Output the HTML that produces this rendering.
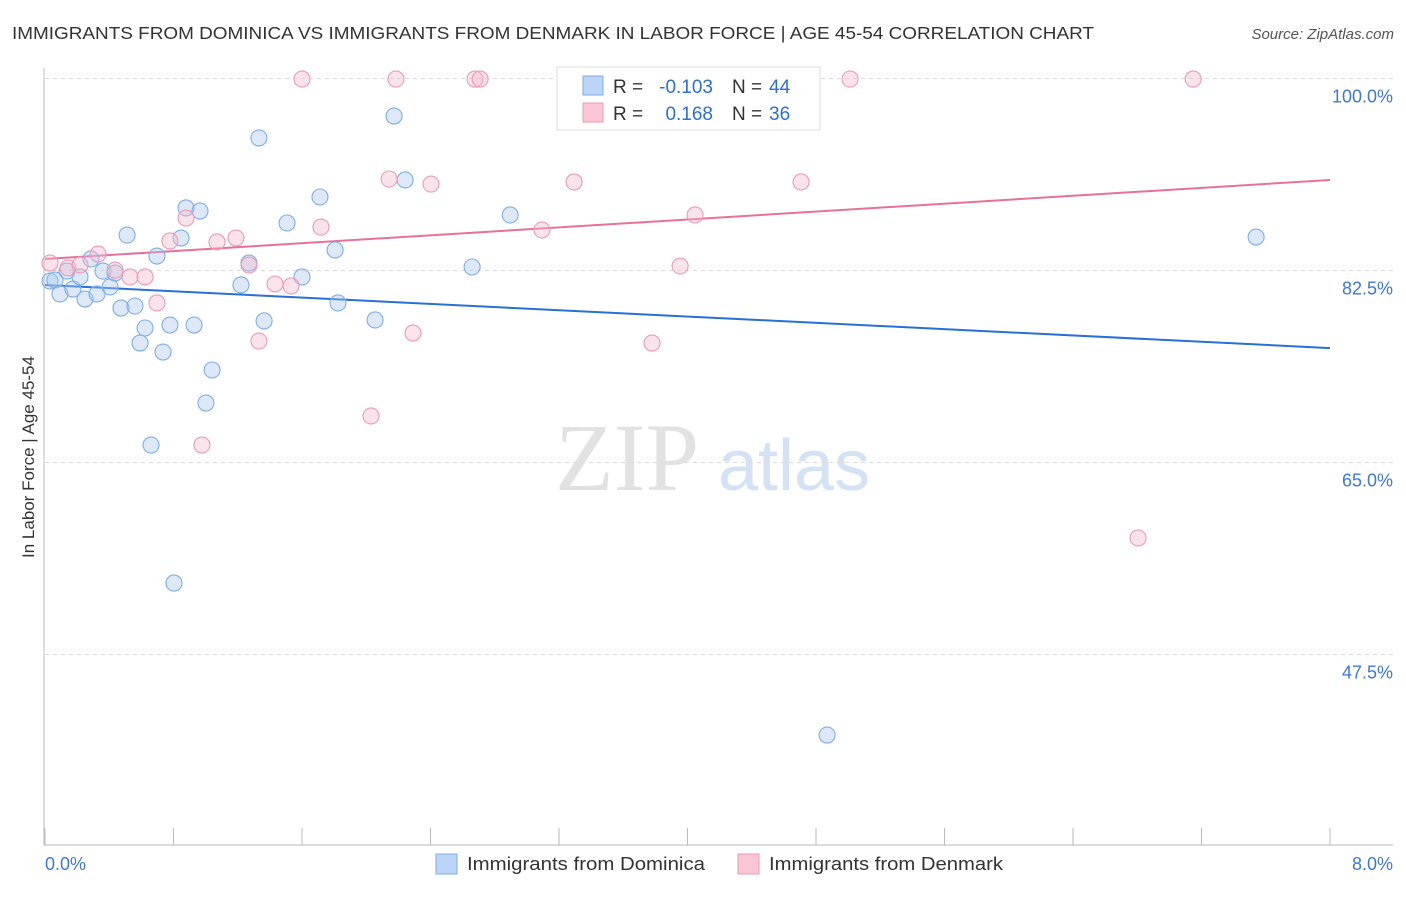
<!DOCTYPE html>
<html><head><meta charset="utf-8">
<style>
body{margin:0;background:#fff;font-family:"Liberation Sans",sans-serif;}
svg text{font-family:"Liberation Sans",sans-serif;}
</style></head>
<body>
<svg id="chart" width="1406" height="892" viewBox="0 0 1406 892" xmlns="http://www.w3.org/2000/svg">
<text x="12" y="39" font-size="17.5" fill="#333" textLength="1082" lengthAdjust="spacingAndGlyphs">IMMIGRANTS FROM DOMINICA VS IMMIGRANTS FROM DENMARK IN LABOR FORCE | AGE 45-54 CORRELATION CHART</text>
<text x="1394" y="39" font-size="15" fill="#555" font-style="italic" text-anchor="end">Source: ZipAtlas.com</text>
<g>
<text x="555" y="490" font-size="96" fill="#e2e2e2" style="font-family:'Liberation Serif',serif">ZIP</text>
<text x="718" y="490" font-size="72" fill="#d3e2f5">atlas</text>
</g>
<g id="grid"></g>
<g id="axes"></g>
<g id="trends"></g>
<g id="points"></g>
<text transform="translate(34,457) rotate(-90)" font-size="17" fill="#333" text-anchor="middle">In Labor Force | Age 45-54</text>
<g>
<rect x="557" y="67" width="263" height="63" fill="#fff" stroke="#ddd"/>
<rect x="583" y="76" width="20" height="19" fill="#bcd4f5" stroke="#7eaee8"/>
<rect x="583" y="103" width="20" height="19" fill="#f9c6d6" stroke="#ee9ab5"/>
<text x="613" y="93" font-size="19" fill="#333">R =</text>
<text x="713" y="93" font-size="19" fill="#2a6fd6" text-anchor="end">-0.103</text>
<text x="732" y="93" font-size="19" fill="#333">N =</text>
<text x="769" y="93" font-size="19" fill="#2a6fd6">44</text>
<text x="613" y="120" font-size="19" fill="#333">R =</text>
<text x="713" y="120" font-size="19" fill="#2a6fd6" text-anchor="end">0.168</text>
<text x="732" y="120" font-size="19" fill="#333">N =</text>
<text x="769" y="120" font-size="19" fill="#2a6fd6">36</text>
</g>
<g>
<rect x="436" y="854" width="21" height="20" fill="#bcd4f5" stroke="#7eaee8"/>
<text x="467" y="870" font-size="18" fill="#333" textLength="238" lengthAdjust="spacingAndGlyphs">Immigrants from Dominica</text>
<rect x="738" y="854" width="21" height="20" fill="#f9c6d6" stroke="#ee9ab5"/>
<text x="769" y="870" font-size="18" fill="#333" textLength="234" lengthAdjust="spacingAndGlyphs">Immigrants from Denmark</text>
</g>
</svg>
<script>
const xTicks=[0,0.8,1.6,2.4,3.2,4.0,4.8,5.6,6.4,7.2,8.0];
const yTicks=[100,82.5,65,47.5];
const yTickLabels=["100.0%","82.5%","65.0%","47.5%"];
const xEndLabels=["0.0%","8.0%"];
const dominicaX=[0.031,0.062,0.093,0.137,0.174,0.218,0.249,0.286,0.324,0.361,0.405,0.436,0.473,0.511,0.560,0.592,0.623,0.660,0.697,0.735,0.778,0.803,0.847,0.878,0.928,0.965,1.002,1.040,1.220,1.270,1.332,1.364,1.507,1.600,1.712,1.806,1.824,2.055,2.173,2.242,2.659,2.896,4.869,7.540];
const dominicaY=[81.54,81.63,80.36,82.45,80.81,81.91,79.90,83.55,80.36,82.45,81.00,82.27,79.08,85.73,79.26,75.89,77.26,66.59,83.82,75.07,77.53,54.01,85.46,88.20,77.53,87.92,70.42,73.43,81.18,83.18,94.58,77.90,86.83,81.91,89.20,84.37,79.54,77.99,96.58,90.75,82.82,87.56,40.16,85.55];
const denmarkX=[0.031,0.143,0.218,0.330,0.436,0.529,0.623,0.697,0.778,0.878,0.977,1.071,1.189,1.270,1.332,1.432,1.532,1.600,1.718,2.030,2.142,2.185,2.291,2.403,2.677,2.709,3.094,3.294,3.692,3.779,3.954,4.047,4.707,5.012,6.805,7.148];
const denmarkY=[83.18,82.73,83.00,84.00,82.54,81.91,81.91,79.54,85.19,87.28,66.59,85.10,85.46,83.00,76.07,81.27,81.09,99.95,86.46,69.24,90.84,99.95,76.80,90.38,99.95,99.95,86.19,90.57,99.95,75.89,82.91,87.56,90.57,99.95,58.12,99.95];
const dominicaTrend=[81.18,75.43];
const denmarkTrend=[83.55,90.75];

const NS="http://www.w3.org/2000/svg";
const xs=v=>45+v/8*1285;
const ys=v=>78.5+(100-v)/17.5*192;
function mk(tag,attrs,parent){const e=document.createElementNS(NS,tag);for(const k in attrs)e.setAttribute(k,attrs[k]);parent.appendChild(e);return e;}
const grid=document.getElementById('grid'),axes=document.getElementById('axes'),trends=document.getElementById('trends'),pts=document.getElementById('points');
yTicks.forEach((t,i)=>{
 const l=mk('line',{x1:45,x2:1393,y1:ys(t),y2:ys(t),stroke:'#ddd','stroke-dasharray':'4,4'},grid);
 
 
 const tx=mk('text',{x:1393,y:ys(t)+24,'font-size':18,fill:'#3d78d8','text-anchor':'end'},axes);
 tx.textContent=yTickLabels[i];
 
 
});
let a=mk('line',{x1:44,x2:44,y1:68,y2:845,stroke:'#bbb'},axes);


a=mk('line',{x1:44,x2:1393,y1:845,y2:845,stroke:'#bbb'},axes);


xTicks.forEach(t=>{
 const l=mk('line',{x1:xs(t),x2:xs(t),y1:828,y2:845,stroke:'#bbb'},axes);
 
 
});
let xl=mk('text',{x:45,y:870,'font-size':18,fill:'#3d78d8'},axes);xl.textContent=xEndLabels[0];


xl=mk('text',{x:1393,y:870,'font-size':18,fill:'#3d78d8','text-anchor':'end'},axes);xl.textContent=xEndLabels[1];


function series(X,Y,fill,stroke,name){
 X.forEach((x,i)=>{
  const c=mk('circle',{cx:xs(x),cy:ys(Y[i]),r:8,fill:fill,'fill-opacity':0.4,stroke:stroke,'stroke-width':1.1},pts);
  
  
 });
}
series(dominicaX,dominicaY,'#a9c8f0','#7eaee8','point-dominica');
series(denmarkX,denmarkY,'#f5b8cc','#ee9ab5','point-denmark');
let t=mk('line',{x1:xs(0),x2:xs(8),y1:ys(dominicaTrend[0]),y2:ys(dominicaTrend[1]),stroke:'#2a6fd6','stroke-width':2},trends);


t=mk('line',{x1:xs(0),x2:xs(8),y1:ys(denmarkTrend[0]),y2:ys(denmarkTrend[1]),stroke:'#e8709c','stroke-width':2},trends);


</script>
</body></html>
